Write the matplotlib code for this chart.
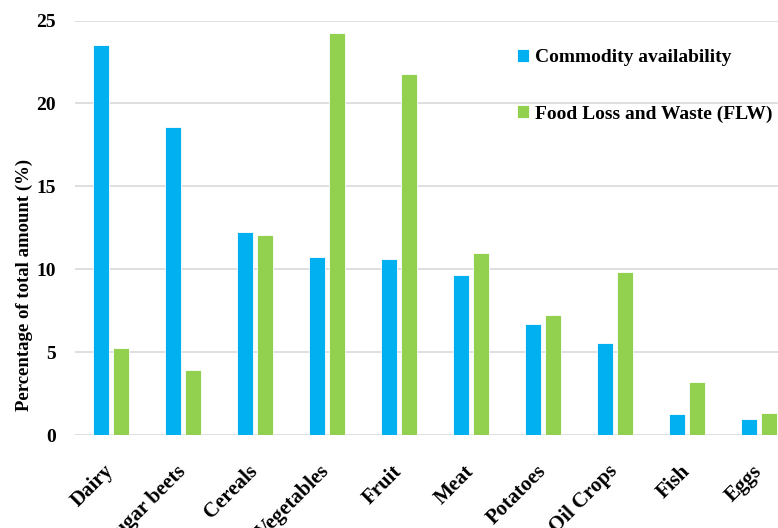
import matplotlib
matplotlib.use("Agg")
import matplotlib.pyplot as plt
import numpy as np

categories = ['Dairy', 'Sugar beets', 'Cereals', 'Vegetables', 'Fruit',
              'Meat', 'Potatoes', 'Oil Crops', 'Fish', 'Eggs']
commodity = [23.55, 18.6, 12.23, 10.72, 10.64, 9.66, 6.70, 5.53, 1.27, 0.95]
flw = [5.23, 3.92, 12.07, 24.24, 21.75, 10.96, 7.26, 9.82, 3.22, 1.35]
yticks = [0, 5, 10, 15, 20, 25]

plt.rcParams['font.family'] = ['Liberation Serif', 'DejaVu Serif']
plt.rcParams['font.weight'] = 'bold'

fig = plt.figure(figsize=(7.78, 5.28), dpi=100)
ax = fig.add_axes([0.0964, 0.176, 0.9254, 0.785])

x = np.arange(len(categories))
w = 0.222
off = 0.142
ax.bar(x - off, commodity, w, color='#00B0F0', edgecolor='white', linewidth=0.6,
       label='Commodity availability', zorder=3)
ax.bar(x + off, flw, w, color='#92D050', edgecolor='white', linewidth=0.6,
       label='Food Loss and Waste (FLW)', zorder=3)

ax.set_xlim(-0.5, len(categories) - 0.5)
ax.set_ylim(0, 25)
ax.set_yticks(yticks)
ax.set_yticklabels([str(t) for t in yticks], fontsize=14, fontweight='bold')
ax.set_xticks(x)
ax.set_xticklabels(categories, rotation=45, ha='right', va='center', rotation_mode='anchor',
                   fontsize=15, fontweight='bold')
ax.tick_params(axis='both', length=0)
ax.tick_params(axis='y', pad=14)
ax.tick_params(axis='x', pad=24)
ax.grid(axis='y', color='#D9D9D9', linewidth=1.2, zorder=0)
for s in ax.spines.values():
    s.set_visible(False)

ax.set_ylabel('Percentage of total amount (%)', fontsize=13.5, fontweight='bold')
ax.yaxis.set_label_coords(0.043, 0.46, transform=fig.transFigure)

ax.legend(loc='upper left', bbox_to_anchor=(0.642, 0.940), bbox_transform=fig.transFigure,
          frameon=False, handlelength=0.62, handleheight=0.62, handletextpad=0.3,
          labelspacing=2.0, prop={'size': 14, 'weight': 'bold'})

fig.savefig('out.png', dpi=100)
